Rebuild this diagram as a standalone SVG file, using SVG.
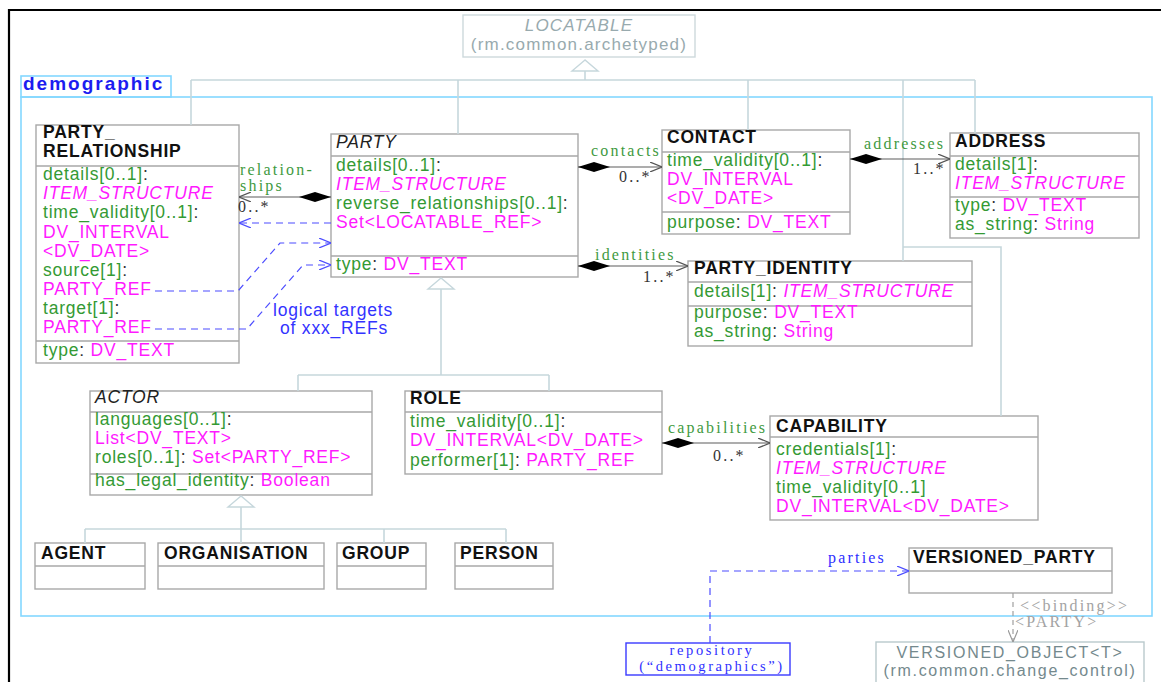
<svg xmlns="http://www.w3.org/2000/svg" width="1161" height="682" viewBox="0 0 1161 682">
<style>
  .box{fill:#fff;stroke:#a8a8a8;stroke-width:1.4}
  .sep{stroke:#a8a8a8;stroke-width:1.4;fill:none}
  .t{font-family:"Liberation Sans",Arial,sans-serif;font-size:17.5px;letter-spacing:0.8px}
  .cn{font-weight:bold;fill:#111}
  .ab{font-style:italic;fill:#222}
  .g{fill:#349a34}
  .m{fill:#ff1aff}
  .k{fill:#333}
  .i{font-style:italic}
  .ext{font-family:"Liberation Sans",Arial,sans-serif;font-size:17px;letter-spacing:1.2px;fill:#98aaae}
  .ext2{font-family:"Liberation Sans",Arial,sans-serif;font-size:16px;letter-spacing:1.7px;fill:#74898d}
  .s{font-family:"Liberation Serif","Times New Roman",serif;font-size:16px;letter-spacing:2.2px}
  .rs{font-family:"Liberation Serif","Times New Roman",serif;font-size:14.5px;letter-spacing:2.6px}
  .lg{fill:#3f9a3f}
  .mul{fill:#333}
  .bl{fill:#2f2fff}
  .gr{fill:#a3a3a3}
  .inh{stroke:#c6d7dc;stroke-width:1.6;fill:none}
  .tri{stroke:#c6d7dc;stroke-width:1.4;fill:#fff}
  .as{stroke:#5c5c5c;stroke-width:1.2;fill:none}
  .ref{stroke:#4d4dff;stroke-width:1.2;fill:none;stroke-dasharray:7 5}
  .bind{stroke:#a0a0a0;stroke-width:1.2;fill:none;stroke-dasharray:5 4}
  .pkg{fill:none;stroke:#84d8ff;stroke-width:1.6}
</style>
<defs>
  <marker id="open" viewBox="0 0 12 10" refX="12" refY="5" markerWidth="12" markerHeight="10" markerUnits="userSpaceOnUse" orient="auto">
    <path d="M0,0 L12,5 L0,10" fill="none" stroke="#555" stroke-width="1.2"/>
  </marker>
  <marker id="openBlue" viewBox="0 0 12 10" refX="12" refY="5" markerWidth="12" markerHeight="10" markerUnits="userSpaceOnUse" orient="auto">
    <path d="M0,0 L12,5 L0,10" fill="none" stroke="#4d4dff" stroke-width="1.2"/>
  </marker>
  <marker id="openGray" viewBox="0 0 12 10" refX="12" refY="5" markerWidth="12" markerHeight="10" markerUnits="userSpaceOnUse" orient="auto">
    <path d="M0,0 L12,5 L0,10" fill="none" stroke="#999" stroke-width="1.2"/>
  </marker>
  <marker id="diamond" viewBox="0 0 32 10" refX="0" refY="5" markerWidth="32" markerHeight="10" markerUnits="userSpaceOnUse" orient="auto">
    <path d="M0,5 L16,0 L32,5 L16,10 Z" fill="#000"/>
  </marker>
</defs>

<!-- page frame -->
<path d="M9,682 V10 H1161" fill="none" stroke="#000" stroke-width="2.2"/>

<!-- demographic package -->
<g id="package-demographic">
  <rect class="pkg" x="21" y="76" width="150" height="21"/>
  <rect class="pkg" x="21" y="97" width="1131" height="519"/>
  <text x="23" y="90" font-family="Liberation Sans,Arial,sans-serif" font-size="19" font-weight="bold" letter-spacing="2" fill="#1c1cf0">demographic</text>
</g>

<g id="LOCATABLE">
  <rect x="463" y="15" width="232" height="42" fill="#fff" stroke="#cdd9dc" stroke-width="1.4"/>
  <text class="ext" x="579" y="31" text-anchor="middle" font-style="italic">LOCATABLE</text>
  <text class="ext" x="579" y="50" text-anchor="middle">(rm.common.archetyped)</text>
</g>

<g id="PARTY_RELATIONSHIP">
  <rect class="box" x="36" y="125" width="203" height="238"/>
  <path class="sep" d="M36,166 H239 M36,341 H239"/>
  <text class="t cn" x="43" y="138">PARTY_</text>
  <text class="t cn" x="43" y="157">RELATIONSHIP</text>
  <text class="t" x="43" y="180"><tspan class="g">details[0..1]</tspan><tspan class="k">:</tspan></text>
  <text class="t m i" x="43" y="199">ITEM_STRUCTURE</text>
  <text class="t" x="43" y="218"><tspan class="g">time_validity[0..1]</tspan><tspan class="k">:</tspan></text>
  <text class="t m" x="43" y="238">DV_INTERVAL</text>
  <text class="t m" x="43" y="257">&lt;DV_DATE&gt;</text>
  <text class="t" x="43" y="276"><tspan class="g">source[1]</tspan><tspan class="k">:</tspan></text>
  <text class="t m" x="43" y="295">PARTY_REF</text>
  <text class="t" x="43" y="314"><tspan class="g">target[1]</tspan><tspan class="k">:</tspan></text>
  <text class="t m" x="43" y="333">PARTY_REF</text>
  <text class="t" x="43" y="356"><tspan class="g">type</tspan><tspan class="k">: </tspan><tspan class="m">DV_TEXT</tspan></text>
</g>

<g id="PARTY">
  <rect class="box" x="331" y="134" width="247" height="143"/>
  <path class="sep" d="M331,156 H578 M331,256 H578"/>
  <text class="t ab" x="336" y="148">PARTY</text>
  <text class="t" x="336" y="171"><tspan class="g">details[0..1]</tspan><tspan class="k">:</tspan></text>
  <text class="t m i" x="336" y="190">ITEM_STRUCTURE</text>
  <text class="t" x="336" y="209"><tspan class="g">reverse_relationships[0..1]</tspan><tspan class="k">:</tspan></text>
  <text class="t m" x="336" y="228">Set&lt;LOCATABLE_REF&gt;</text>
  <text class="t" x="336" y="270"><tspan class="g">type</tspan><tspan class="k">: </tspan><tspan class="m">DV_TEXT</tspan></text>
</g>

<g id="CONTACT">
  <rect class="box" x="662" y="130" width="188" height="104"/>
  <path class="sep" d="M662,152 H850 M662,212 H850"/>
  <text class="t cn" x="667" y="143">CONTACT</text>
  <text class="t" x="667" y="166"><tspan class="g">time_validity[0..1]</tspan><tspan class="k">:</tspan></text>
  <text class="t m" x="667" y="185">DV_INTERVAL</text>
  <text class="t m" x="667" y="204">&lt;DV_DATE&gt;</text>
  <text class="t" x="667" y="228"><tspan class="g">purpose</tspan><tspan class="k">: </tspan><tspan class="m">DV_TEXT</tspan></text>
</g>

<g id="ADDRESS">
  <rect class="box" x="950" y="133" width="189" height="105"/>
  <path class="sep" d="M950,156 H1139 M950,197 H1139"/>
  <text class="t cn" x="955" y="147">ADDRESS</text>
  <text class="t" x="955" y="170"><tspan class="g">details[1]</tspan><tspan class="k">:</tspan></text>
  <text class="t m i" x="955" y="189">ITEM_STRUCTURE</text>
  <text class="t" x="955" y="211"><tspan class="g">type</tspan><tspan class="k">: </tspan><tspan class="m">DV_TEXT</tspan></text>
  <text class="t" x="955" y="230"><tspan class="g">as_string</tspan><tspan class="k">: </tspan><tspan class="m">String</tspan></text>
</g>

<g id="PARTY_IDENTITY">
  <rect class="box" x="688" y="261" width="284" height="85"/>
  <path class="sep" d="M688,282 H972 M688,306 H972"/>
  <text class="t cn" x="694" y="274">PARTY_IDENTITY</text>
  <text class="t" x="694" y="297"><tspan class="g">details[1]</tspan><tspan class="k">: </tspan><tspan class="m i">ITEM_STRUCTURE</tspan></text>
  <text class="t" x="694" y="318"><tspan class="g">purpose</tspan><tspan class="k">: </tspan><tspan class="m">DV_TEXT</tspan></text>
  <text class="t" x="694" y="337"><tspan class="g">as_string</tspan><tspan class="k">: </tspan><tspan class="m">String</tspan></text>
</g>

<g id="ACTOR">
  <rect class="box" x="90" y="391" width="282" height="104"/>
  <path class="sep" d="M90,412 H372 M90,474 H372"/>
  <text class="t ab" x="95" y="403">ACTOR</text>
  <text class="t" x="95" y="425"><tspan class="g">languages[0..1]</tspan><tspan class="k">:</tspan></text>
  <text class="t m" x="95" y="444">List&lt;DV_TEXT&gt;</text>
  <text class="t" x="95" y="463"><tspan class="g">roles[0..1]</tspan><tspan class="k">: </tspan><tspan class="m">Set&lt;PARTY_REF&gt;</tspan></text>
  <text class="t" x="95" y="486"><tspan class="g">has_legal_identity</tspan><tspan class="k">: </tspan><tspan class="m">Boolean</tspan></text>
</g>

<g id="ROLE">
  <rect class="box" x="405" y="391" width="257" height="83"/>
  <path class="sep" d="M405,412 H662"/>
  <text class="t cn" x="410" y="404">ROLE</text>
  <text class="t" x="410" y="427"><tspan class="g">time_validity[0..1]</tspan><tspan class="k">:</tspan></text>
  <text class="t m" x="410" y="446">DV_INTERVAL&lt;DV_DATE&gt;</text>
  <text class="t" x="410" y="466"><tspan class="g">performer[1]</tspan><tspan class="k">: </tspan><tspan class="m">PARTY_REF</tspan></text>
</g>

<g id="CAPABILITY">
  <rect class="box" x="770" y="416" width="268" height="104"/>
  <path class="sep" d="M770,437 H1038"/>
  <text class="t cn" x="776" y="432">CAPABILITY</text>
  <text class="t" x="776" y="455"><tspan class="g">credentials[1]</tspan><tspan class="k">:</tspan></text>
  <text class="t m i" x="776" y="474">ITEM_STRUCTURE</text>
  <text class="t g" x="776" y="493">time_validity[0..1]</text>
  <text class="t m" x="776" y="512">DV_INTERVAL&lt;DV_DATE&gt;</text>
</g>

<g id="AGENT">
  <rect class="box" x="35" y="543" width="110" height="46"/>
  <path class="sep" d="M35,566 H145"/>
  <text class="t cn" x="41" y="559">AGENT</text>
</g>
<g id="ORGANISATION">
  <rect class="box" x="158" y="543" width="166" height="46"/>
  <path class="sep" d="M158,566 H324"/>
  <text class="t cn" x="164" y="559">ORGANISATION</text>
</g>
<g id="GROUP">
  <rect class="box" x="337" y="543" width="89" height="46"/>
  <path class="sep" d="M337,566 H426"/>
  <text class="t cn" x="342" y="559">GROUP</text>
</g>
<g id="PERSON">
  <rect class="box" x="455" y="543" width="98" height="46"/>
  <path class="sep" d="M455,566 H553"/>
  <text class="t cn" x="460" y="559">PERSON</text>
</g>

<g id="VERSIONED_PARTY">
  <rect class="box" x="909" y="548" width="203" height="45"/>
  <path class="sep" d="M909,571 H1112"/>
  <text class="t cn" x="913" y="563">VERSIONED_PARTY</text>
</g>

<g id="repository">
  <rect x="626" y="643" width="164" height="32" fill="#fff" stroke="#3a3aff" stroke-width="1.4"/>
  <text class="rs bl" x="712" y="655" text-anchor="middle">repository</text>
  <text class="rs bl" x="712" y="671" text-anchor="middle">(“demographics”)</text>
</g>

<g id="VERSIONED_OBJECT">
  <rect x="876" y="642" width="268" height="48" fill="#fff" stroke="#b9c9cc" stroke-width="1.4"/>
  <text class="ext2" x="1010" y="658" text-anchor="middle">VERSIONED_OBJECT&lt;T&gt;</text>
  <text class="ext2" x="1010" y="676" text-anchor="middle">(rm.common.change_control)</text>
</g>

<g id="connectors">
  <!-- generalisation to LOCATABLE -->
  <path class="inh" d="M585,71 V80 M191,80 H975 M191,80 V125 M458,80 V134 M748,80 V130 M903,80 V261 M975,80 V133 M903,247 H1001 V416"/>
  <polygon class="tri" points="585,60 572,71 598,71"/>
  <!-- generalisation to PARTY -->
  <path class="inh" d="M441,289 V375 M298,375 H549 M298,375 V391 M549,375 V391"/>
  <polygon class="tri" points="441,278 428,289 454,289"/>
  <!-- generalisation to ACTOR -->
  <path class="inh" d="M241,507 V529 M85,529 H506 M85,529 V543 M241,529 V543 M384,529 V543 M506,529 V543"/>
  <polygon class="tri" points="241,496 228,507 254,507"/>

  <!-- compositions -->
  <path class="as" d="M331,197 L239,197" marker-start="url(#diamond)" marker-end="url(#open)"/>
  <path class="as" d="M578,167 L662,167" marker-start="url(#diamond)" marker-end="url(#open)"/>
  <path class="as" d="M578,266 L688,266" marker-start="url(#diamond)" marker-end="url(#open)"/>
  <path class="as" d="M850,159 L950,159" marker-start="url(#diamond)" marker-end="url(#open)"/>
  <path class="as" d="M662,443 L770,443" marker-start="url(#diamond)" marker-end="url(#open)"/>

  <text class="s lg" x="240" y="175">relation-</text>
  <text class="s lg" x="240" y="191">ships</text>
  <text class="s mul" x="238" y="212">0..*</text>
  <text class="s lg" x="591" y="156">contacts</text>
  <text class="s mul" x="619" y="182">0..*</text>
  <text class="s lg" x="595" y="260">identities</text>
  <text class="s mul" x="643" y="282">1..*</text>
  <text class="s lg" x="864" y="149">addresses</text>
  <text class="s mul" x="913" y="174">1..*</text>
  <text class="s lg" x="668" y="433">capabilities</text>
  <text class="s mul" x="713" y="461">0..*</text>

  <!-- logical reference targets -->
  <path class="ref" d="M331,223 L239,223" marker-end="url(#openBlue)"/>
  <path class="ref" d="M155,291 L238,291 L280,243 L331,243" marker-end="url(#openBlue)"/>
  <path class="ref" d="M155,329 L247,329 L303,265 L331,265" marker-end="url(#openBlue)"/>
  <text class="t" x="333" y="316" text-anchor="middle" fill="#3333ff">logical targets</text>
  <text class="t" x="334" y="334" text-anchor="middle" fill="#3333ff">of xxx_REFs</text>

  <!-- repository parties -->
  <path class="ref" d="M710,643 L710,571 L909,571" marker-end="url(#openBlue)"/>
  <text class="s bl" x="828" y="563">parties</text>

  <!-- template binding -->
  <path class="bind" d="M1013,593 L1013,642" marker-end="url(#openGray)"/>
  <text class="s gr" x="1020" y="611">&lt;&lt;binding&gt;&gt;</text>
  <text class="s gr" x="1015" y="627">&lt;PARTY&gt;</text>
</g>
</svg>
